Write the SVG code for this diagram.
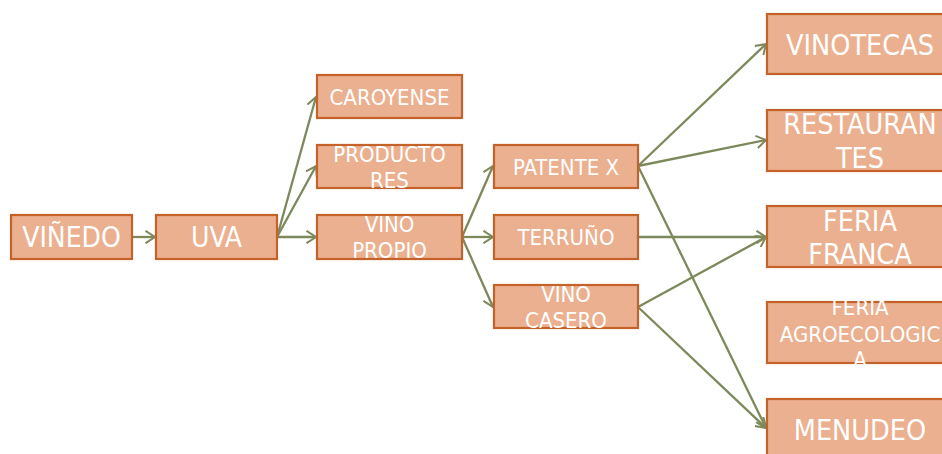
<svg xmlns="http://www.w3.org/2000/svg" width="942" height="454" viewBox="0 0 942 454">
<defs>
<style>
.box{fill:#EBB08F;stroke:#C4622A;stroke-width:2.2}
.t{fill:#FFFFFF;font-family:"DejaVu Sans Condensed","DejaVu Sans",sans-serif;font-stretch:condensed;text-anchor:middle}
.s{font-size:22px}
.m{font-size:28px}
.l{font-size:28.5px}
.c{fill:none;stroke:#7C895B;stroke-width:2.3}
</style>
<marker id="ah" markerUnits="userSpaceOnUse" viewBox="0 0 11 14" refX="10" refY="7" markerWidth="11" markerHeight="14" orient="auto">
<path d="M0.5,0.8 L10,7 L0.5,13.2" fill="none" stroke="#7C895B" stroke-width="2"/>
</marker>
</defs>
<rect width="942" height="454" fill="#FFFFFF"/>
<g id="connectors">
<line class="c" x1="132" y1="237" x2="155" y2="237" marker-end="url(#ah)"/>
<line class="c" x1="277" y1="237" x2="316" y2="97" marker-end="url(#ah)"/>
<line class="c" x1="277" y1="237" x2="316" y2="166" marker-end="url(#ah)"/>
<line class="c" x1="277" y1="237" x2="316" y2="237" marker-end="url(#ah)"/>
<line class="c" x1="462" y1="237" x2="493" y2="166" marker-end="url(#ah)"/>
<line class="c" x1="462" y1="237" x2="493" y2="237" marker-end="url(#ah)"/>
<line class="c" x1="462" y1="237" x2="493" y2="307" marker-end="url(#ah)"/>
<line class="c" x1="638" y1="166" x2="766" y2="44" marker-end="url(#ah)"/>
<line class="c" x1="638" y1="166" x2="766" y2="140" marker-end="url(#ah)"/>
<line class="c" x1="638" y1="166" x2="766" y2="428" marker-end="url(#ah)"/>
<line class="c" x1="638" y1="237" x2="766" y2="237" marker-end="url(#ah)"/>
<line class="c" x1="638" y1="307" x2="766" y2="237" marker-end="url(#ah)"/>
<line class="c" x1="638" y1="307" x2="766" y2="428" marker-end="url(#ah)"/>
</g>
<g id="vinedo"><rect class="box" x="11" y="215" width="121" height="44"/><text class="t m" x="71.5" y="247">VIÑEDO</text></g>
<g id="uva"><rect class="box" x="156" y="215" width="121" height="44"/><text class="t m" x="216.5" y="247">UVA</text></g>
<g id="caroyense"><rect class="box" x="317" y="75" width="145" height="43"/><text class="t s" x="389.5" y="105">CAROYENSE</text></g>
<g id="productores"><rect class="box" x="317" y="145" width="145" height="43"/><text class="t s" x="389.5" y="162">PRODUCTO</text><text class="t s" x="389.5" y="188">RES</text></g>
<g id="vino-propio"><rect class="box" x="317" y="215" width="145" height="44"/><text class="t s" x="389.5" y="232">VINO</text><text class="t s" x="389.5" y="258">PROPIO</text></g>
<g id="patente-x"><rect class="box" x="494" y="145" width="144" height="43"/><text class="t s" x="566" y="175">PATENTE X</text></g>
<g id="terruno"><rect class="box" x="494" y="215" width="144" height="44"/><text class="t s" x="566" y="245">TERRUÑO</text></g>
<g id="vino-casero"><rect class="box" x="494" y="285" width="144" height="43"/><text class="t s" x="566" y="302">VINO</text><text class="t s" x="566" y="328">CASERO</text></g>
<g id="vinotecas"><rect class="box" x="767" y="14" width="186" height="60"/><text class="t l" x="860" y="55">VINOTECAS</text></g>
<g id="restaurantes"><rect class="box" x="767" y="110" width="186" height="61"/><text class="t l" x="860" y="134">RESTAURAN</text><text class="t l" x="860" y="168">TES</text></g>
<g id="feria-franca"><rect class="box" x="767" y="206" width="186" height="61"/><text class="t l" x="860" y="231">FERIA</text><text class="t l" x="860" y="264">FRANCA</text></g>
<g id="feria-agroecologica"><rect class="box" x="767" y="302" width="186" height="61"/><text class="t s" x="860" y="315">FERIA</text><text class="t s" x="860" y="342">AGROECOLOGIC</text><text class="t s" x="860" y="367">A</text></g>
<g id="menudeo"><rect class="box" x="767" y="399" width="186" height="61"/><text class="t l" x="860" y="440">MENUDEO</text></g>
</svg>
